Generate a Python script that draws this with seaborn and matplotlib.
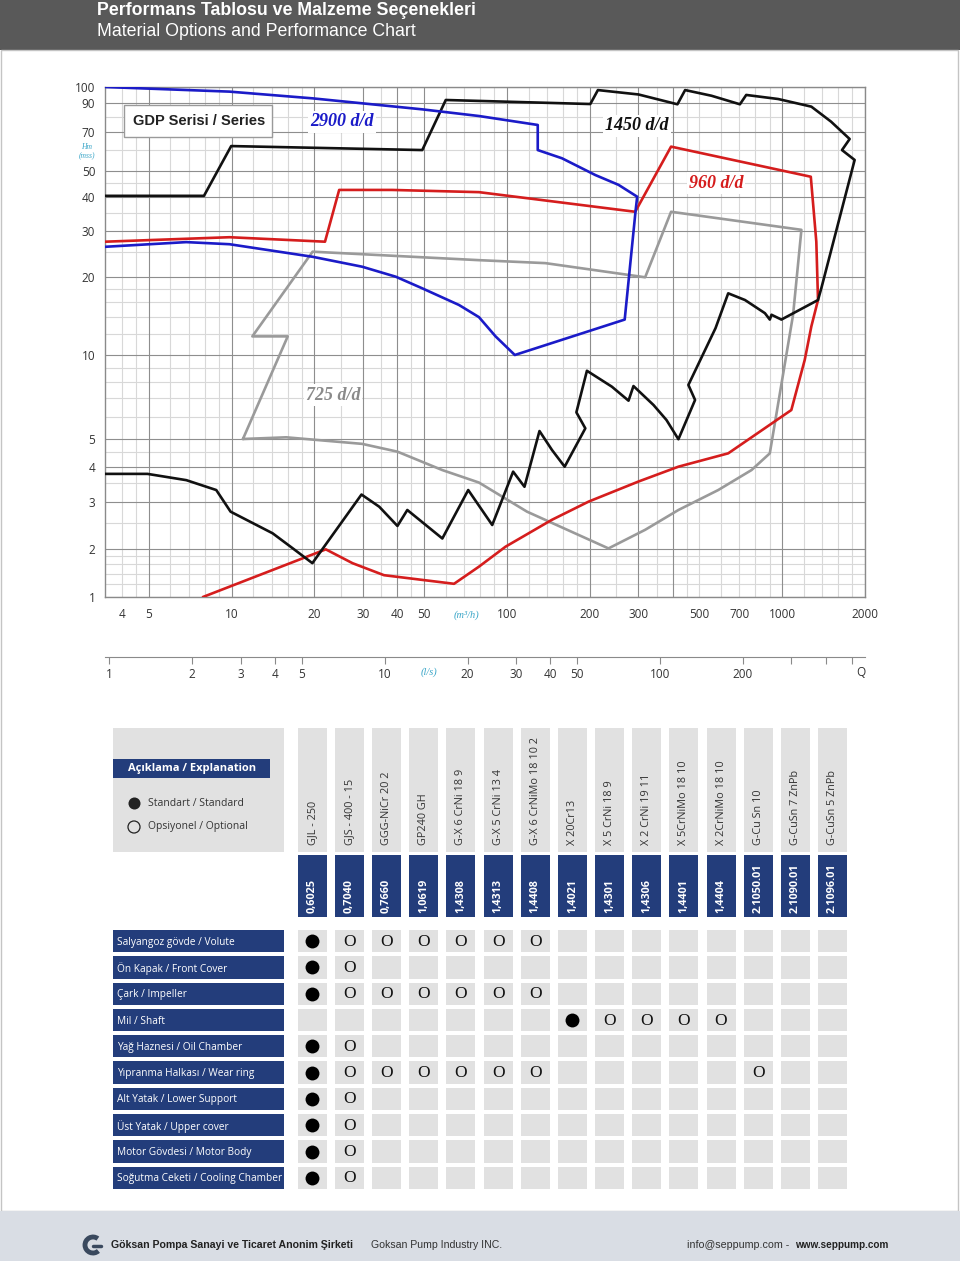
"""
GDP series sheet: performance envelopes on a log/log grid plus the
material options table underneath. Saves out.png (960x1261).
"""
import matplotlib
matplotlib.use("Agg")   # headless
import matplotlib.pyplot as plt
import matplotlib.ticker as mticker
from matplotlib.patches import Rectangle, Arc
from matplotlib.lines import Line2D
import numpy as np
import pandas as pd
import seaborn as sns

# ── performance envelopes (Q in m³/h, H in m) ─────────────────────────────
q_2900 = [3.47, 9.83, 19.7, 49.2, 79.2, 129.5, 129.5, 158.6, 209.6, 254.5, 297.5, 293.3,
          268, 106.9, 91.0, 79.2, 67.0, 49.2, 39.5, 29.8, 19.7, 9.83, 6.85, 3.47]
h_2900 = [100, 97.0, 92.8, 85.2, 80.4, 74.4, 59.9, 55.8, 48.3, 44.4, 40.1, 35.3,
          13.7, 10.0, 11.8, 14.0, 15.6, 18.1, 20.05, 21.9, 23.9, 26.7, 27.2, 26.1]

q_1450 = [3.47, 7.94, 9.97, 49.3, 60.0, 201, 214.2, 300.8, 416.6, 444.2, 554, 702.6,
          740.6, 967, 1277, 1505, 1759, 1650, 1834, 1388, 1350, 994, 915, 902, 866, 733,
          637, 573, 456.5, 482.8, 420, 380, 341, 288.4, 276.7, 240.7, 195.4, 178.9,
          192.8, 162.2, 145.9, 131.4, 115.9, 105.4, 88.5, 72.4, 58.3, 43.5, 40.05, 34.4,
          29.65, 19.66, 16.7, 14.1, 9.92, 8.80, 6.85, 4.95, 3.47]
h_1450 = [40.4, 40.4, 62.0, 59.9, 91.8, 89.2, 98.0, 95.2, 89.0, 98.0, 94.4, 89.0,
          94.9, 92.4, 87.2, 76.6, 65.9, 59.9, 55.0, 18.1, 16.3, 13.7, 14.3, 13.7, 14.5, 16.3,
          17.3, 12.7, 7.81, 6.90, 4.99, 5.85, 6.62, 7.74, 6.86, 7.70, 8.78, 6.23,
          5.46, 4.01, 4.58, 5.34, 3.40, 3.85, 2.46, 3.31, 2.19, 2.80, 2.44, 2.88,
          3.19, 1.63, 2.01, 2.29, 2.76, 3.31, 3.59, 3.78, 3.78]

q_960 = [3.47, 9.83, 21.85, 24.6, 38.3, 79.2, 292.6, 395, 1271, 1331, 1350, 1277, 1208,
         1080, 637, 420, 300.8, 198.2, 145.5, 98.9, 79.2, 64.3, 35.8, 27.5, 22.0, 7.87]
h_960 = [27.3, 28.4, 27.3, 42.5, 42.5, 41.7, 35.3, 61.7, 47.6, 27.3, 16.3, 12.9, 9.6,
         6.35, 4.46, 4.01, 3.55, 3.01, 2.57, 2.04, 1.55, 1.21, 1.37, 1.63, 1.99, 1.0]

q_725 = [11.0, 16.0, 11.9, 19.7, 79.2, 138.1, 318, 395, 1175, 1096, 902, 774, 586,
         420, 318, 234, 118.4, 79.2, 58.3, 40.05, 29.8, 15.8, 11.0]
h_725 = [5.0, 11.8, 11.8, 25.0, 23.2, 22.6, 19.95, 35.3, 30.3, 14.3, 4.46, 3.90, 3.31,
         2.80, 2.36, 2.01, 2.76, 3.52, 3.90, 4.52, 4.81, 5.07, 5.0]

q_ticks = [4, 5, 10, 20, 30, 40, 50, 100, 200, 300, 500, 700, 1000, 2000]
h_ticks = [1, 2, 3, 4, 5, 10, 20, 30, 40, 50, 70, 90, 100]
ls_ticks = [1, 2, 3, 4, 5, 10, 20, 30, 40, 50, 100, 200, 300, 400, 500]
ls_labels = ["1", "2", "3", "4", "5", "10", "20", "30", "40", "50", "100", "200", "", "", ""]

# ── material options ──────────────────────────────────────────────────────
materials = ["GJL - 250", "GJS - 400 - 15", "GGG-NiCr 20 2", "GP240 GH", "G-X 6 CrNi 18 9",
             "G-X 5 CrNi 13 4", "G-X 6 CrNiMo 18 10 2", "X 20Cr13", "X 5 CrNi 18 9",
             "X 2 CrNi 19 11", "X 5CrNiMo 18 10", "X 2CrNiMo 18 10", "G-Cu Sn 10",
             "G-CuSn 7 ZnPb", "G-CuSn 5 ZnPb"]
codes = ["0,6025", "0,7040", "0,7660", "1,0619", "1,4308", "1,4313", "1,4408", "1,4021",
         "1,4301", "1,4306", "1,4401", "1,4404", "2.1050.01", "2.1090.01", "2.1096.01"]
parts = ["Salyangoz gövde / Volute", "Ön Kapak / Front Cover", "Çark / Impeller",
         "Mil / Shaft", "Yağ Haznesi / Oil Chamber", "Yıpranma Halkası / Wear ring",
         "Alt Yatak / Lower Support", "Üst Yatak / Upper cover",
         "Motor Gövdesi / Motor Body", "Soğutma Ceketi / Cooling Chamber"]
# S = standard, O = optional, . = not offered
options = ["SOOOOOO........",
           "SO.............",
           "SOOOOOO........",
           ".......SOOOO...",
           "SO.............",
           "SOOOOOO.....O..",
           "SO.............",
           "SO.............",
           "SO.............",
           "SO............."]

# ── layout / styling ──────────────────────────────────────────────────────
W, H = 960, 1261
NAVY = "#233d7b"
CELL = "#e1e1e1"
CYAN = "#3aa6c8"
GRID_MAJOR = "#8e8e8e"
GRID_MINOR = "#d8d8d8"
SERIF = ["Liberation Serif", "DejaVu Serif"]
ARIAL = ["Liberation Sans", "DejaVu Sans"]

x_major = [5, 10, 20, 30, 40, 50, 100, 200, 300, 400, 1000, 2000]
x_minor = [4, 4.5, 6, 7, 8, 9, 12, 14, 16, 18, 25, 35, 45, 60, 70, 80, 90, 120, 140, 160,
           180, 250, 350, 450, 500, 600, 700, 800, 900, 1200, 1400, 1600, 1800]
y_major = h_ticks
y_minor = [1.2, 1.4, 1.6, 1.8, 2.5, 3.5, 4.5, 6, 7, 8, 9, 12, 14, 16, 18, 25, 35, 45, 60, 80]

# the printed head axis is only roughly logarithmic: pin every labelled value
# to where it sits on the sheet and interpolate log-linearly in between
H_TICK_PX = [597, 549, 502, 467, 439, 355, 277, 231, 197, 171, 132, 103, 87]
_lg = np.log10(h_ticks)
_fr = (597 - np.array(H_TICK_PX)) / 510.0
_s0 = (_fr[1] - _fr[0]) / (_lg[1] - _lg[0])
_s1 = (_fr[-1] - _fr[-2]) / (_lg[-1] - _lg[-2])
LG = np.r_[_lg[0] - 8, _lg, _lg[-1] + 8]
FR = np.r_[_fr[0] - 8 * _s0, _fr, _fr[-1] + 8 * _s1]


def h_fwd(v):
    return np.interp(np.log10(np.clip(v, 1e-7, 1e9)), LG, FR)


def h_inv(f):
    return 10 ** np.interp(f, FR, LG)


def fx(px):
    return px / W


def fy(py):
    return 1 - py / H


def fig_rect(fig, x0, y0, x1, y1, **kw):
    fig.add_artist(Rectangle((fx(x0), fy(y1)), fx(x1) - fx(x0), fy(y0) - fy(y1),
                             transform=fig.transFigure, **kw))


sns.set_style("white")
plt.rcParams["font.family"] = ["Open Sans", "DejaVu Sans"]

fig = plt.figure(figsize=(W / 100, H / 100), dpi=100)

# ── header / footer / page frame ──────────────────────────────────────────
fig_rect(fig, 0, 0, W, 50, color="#595959", lw=0)
fig.text(fx(97), fy(15), "Performans Tablosu ve Malzeme Seçenekleri", color="white",
         fontsize=12.8, fontweight="bold", family=ARIAL, va="baseline")
fig.text(fx(97), fy(36.5), "Material Options and Performance Chart", color="white",
         fontsize=12.8, family=ARIAL, va="baseline")
fig_rect(fig, 1, 50, 958, 1211, fill=False, ec="#c4c4c4", lw=1)
fig_rect(fig, 0, 1211, W, H, color="#d9dde4", lw=0)
fig.add_artist(Arc((fx(93), fy(1245)), 16 / W, 16 / H, theta1=45, theta2=320,
                   transform=fig.transFigure, color="#3a495e", lw=3.5))
fig.add_artist(Line2D([fx(93), fx(101)], [fy(1246), fy(1246)], transform=fig.transFigure,
                      color="#3a495e", lw=2.5))
fig.text(fx(111), fy(1245), "Göksan Pompa Sanayi ve Ticaret Anonim Şirketi", fontsize=7.6,
         fontweight="bold", family=ARIAL, color="#222", va="center")
fig.text(fx(371), fy(1245), "Goksan Pump Industry INC.", fontsize=7.6, family=ARIAL,
         color="#333", va="center")
fig.text(fx(687), fy(1245), "info@seppump.com - ", fontsize=7.7, family=ARIAL,
         color="#333", va="center")
fig.text(fx(888), fy(1245), "www.seppump.com", fontsize=7.2, fontweight="bold",
         family=ARIAL, color="#222", va="center", ha="right")

# ── performance chart ─────────────────────────────────────────────────────
ax = fig.add_axes([fx(105), fy(597), 760 / W, 510 / H])
curves = [(q_725, h_725, "#9a9a9a"), (q_960, h_960, "#d51d1d"),
          (q_1450, h_1450, "#111111"), (q_2900, h_2900, "#1b1bc8")]
for q, h, c in curves:
    df = pd.DataFrame({"Q": q, "H": h})
    sns.lineplot(data=df, x="Q", y="H", sort=False, estimator=None, color=c,
                 lw=1.9, ax=ax, zorder=3)

ax.set_xscale("log")
ax.set_yscale("function", functions=(h_fwd, h_inv))
ax.set_xlim(3.47, 2000)
ax.set_ylim(1, 100)
ax.set_xlabel("")
ax.set_ylabel("")

for v in x_minor:
    ax.axvline(v, color=GRID_MINOR, lw=0.8, zorder=0)
for v in y_minor:
    ax.axhline(v, color=GRID_MINOR, lw=0.8, zorder=0)
for v in x_major:
    ax.axvline(v, color=GRID_MAJOR, lw=0.8, zorder=1)
for v in y_major:
    ax.axhline(v, color=GRID_MAJOR, lw=0.8, zorder=1)

for s in ax.spines.values():
    s.set_color("#8a8a8a")
    s.set_linewidth(1)

ax.set_yticks(h_ticks, labels=[str(v) for v in h_ticks])
ax.yaxis.set_minor_locator(mticker.NullLocator())
ax.tick_params(axis="y", length=4, color="#8a8a8a", pad=3, labelsize=8.5,
               labelcolor="#333")
ax.set_xticks(q_ticks, labels=[str(v) for v in q_ticks])
ax.xaxis.set_minor_locator(mticker.NullLocator())
ax.tick_params(axis="x", which="both", length=0, pad=8, labelsize=8.5, labelcolor="#333")

# second flow scale in l/s, hanging below the chart
sec = ax.secondary_xaxis(-60 / 510, functions=(lambda q: q / 3.6, lambda l: l * 3.6))
sec.set_xticks(ls_ticks, labels=ls_labels)
sec.xaxis.set_minor_locator(mticker.NullLocator())
sec.spines["bottom"].set_color("#8a8a8a")
sec.tick_params(axis="x", length=5, color="#8a8a8a", pad=3, labelsize=8.5, labelcolor="#333")

fig.text(fx(467), fy(615), "(m³/h)", color=CYAN, fontsize=7.5, style="italic",
         family=SERIF, ha="center", va="center")
fig.text(fx(429), fy(672), "(l/s)", color=CYAN, fontsize=7.5, style="italic",
         family=SERIF, ha="center", va="center")
fig.text(fx(861), fy(672), "Q", color="#333", fontsize=8.5, ha="center", va="center")
fig.text(fx(87), fy(147), "Hm", color=CYAN, fontsize=5.5, style="italic", family=SERIF,
         ha="center", va="center")
fig.text(fx(87), fy(156), "(mss)", color=CYAN, fontsize=5.5, style="italic", family=SERIF,
         ha="center", va="center")

fig_rect(fig, 124, 105, 272, 137, fc="white", ec="#9a9a9a", lw=1)
fig.text(fx(199), fy(121), "GDP Serisi / Series", fontsize=10.5, fontweight="bold",
         family=ARIAL, color="#222", ha="center", va="center")
speed_labels = [("2900 d/d", 342, 122, "#1b1bc8"), ("1450 d/d", 637, 126, "#111111"),
                ("960 d/d", 716, 183, "#d51d1d"), ("725 d/d", 333, 395, "#8a8a8a")]
for txt, px, py, c in speed_labels:
    fig.text(fx(px), fy(py), txt, color=c, fontsize=13, fontweight="bold", style="italic",
             family=SERIF, ha="center", va="center",
             bbox=dict(fc="white", ec="none", pad=1.5))

# ── material table ────────────────────────────────────────────────────────
COL0, COL_STEP = 312.3, 37.16
ROW0, ROW_STEP = 941.1, 26.3


def col_of(px):
    return (px - COL0) / COL_STEP


def row_of(py):
    return (py - ROW0) / ROW_STEP


tax = fig.add_axes([fx(100), fy(1195), 760 / W, 475 / H])
tax.set_xlim(col_of(100), col_of(860))
tax.set_ylim(row_of(1195), row_of(720))
tax.axis("off")

cols = np.arange(len(materials))
cell_w = 29 / COL_STEP
cell_h = 22.3 / ROW_STEP

# column headers: material name + material number
tax.bar(cols, row_of(851.7) - row_of(728.3), bottom=row_of(728.3), width=cell_w,
        color=CELL, lw=0)
tax.bar(cols, row_of(916.7) - row_of(855), bottom=row_of(855), width=cell_w,
        color=NAVY, lw=0)
for c, (name, code) in enumerate(zip(materials, codes)):
    tax.text(c, row_of(845), name, rotation=90, ha="center", va="bottom",
             fontsize=7.8, color="#333")
    tax.text(c, row_of(913), code, rotation=90, ha="center", va="bottom",
             fontsize=7.8, fontweight="bold", color="white")

# part rows
for r, part in enumerate(parts):
    tax.bar(cols, cell_h, bottom=r - cell_h / 2, width=cell_w, color=CELL, lw=0)
tax.barh(np.arange(len(parts)), (284.3 - 112.7) / COL_STEP, left=col_of(112.7),
         height=cell_h, color=NAVY, lw=0)
for r, part in enumerate(parts):
    tax.text(col_of(117), r + 0.04, part, ha="left", va="center", fontsize=7.3,
             color="white")

std_x, std_y = [], []
for r, row in enumerate(options):
    for c, m in enumerate(row):
        if m == "S":
            std_x.append(c)
            std_y.append(r)
        elif m == "O":
            tax.text(c, r + 0.02, "O", ha="center", va="center", fontsize=12.5,
                     family=SERIF, color="#111")
tax.scatter(std_x, std_y, s=100, color="black", lw=0, zorder=3)

# legend block (kept beneath the table axes so its symbols stay on top)
fig_rect(fig, 112.7, 728.3, 284.3, 851.7, color=CELL, lw=0, zorder=-2)
fig_rect(fig, 113, 759, 270, 778, color=NAVY, lw=0, zorder=-1)
fig.text(fx(128), fy(768.5), "Açıklama / Explanation", color="white", fontsize=8,
         fontweight="bold", va="center")
tax.scatter([col_of(134)], [row_of(803)], s=75, color="#222", lw=0, zorder=3)
tax.scatter([col_of(134)], [row_of(827)], s=75, facecolor="none", edgecolor="#222",
            lw=0.9, zorder=3)
fig.text(fx(148), fy(803), "Standart / Standard", color="#333", fontsize=7.5, va="center")
fig.text(fx(148), fy(827), "Opsiyonel / Optional", color="#333", fontsize=7.5, va="center")

fig.savefig("out.png", dpi=100)
